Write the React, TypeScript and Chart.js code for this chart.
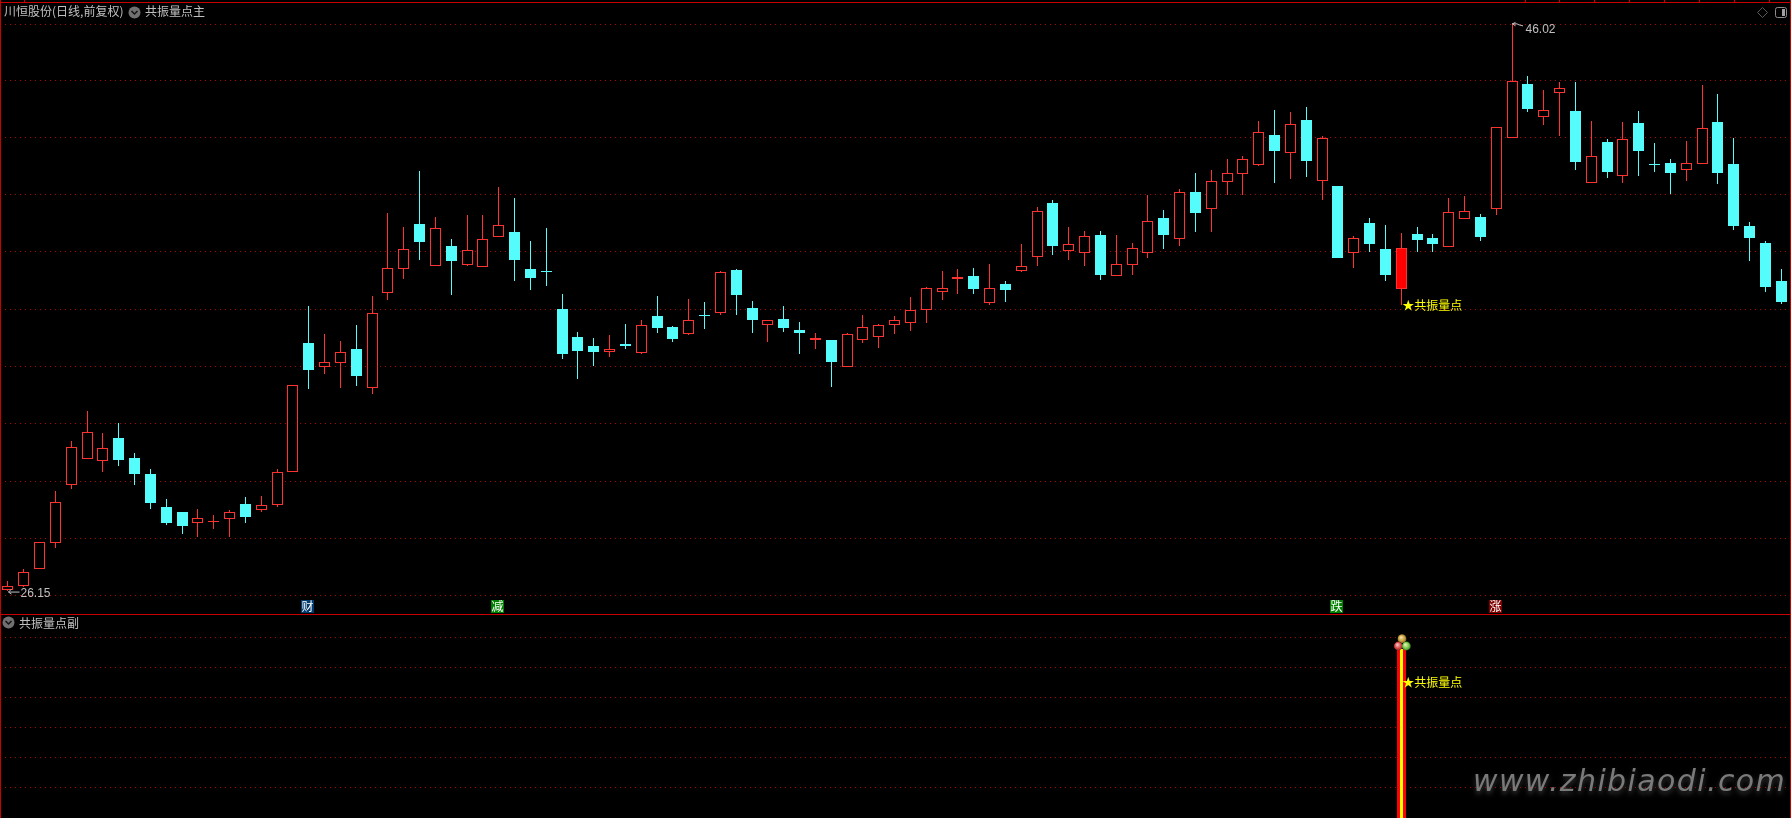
import React, { useEffect, useRef } from "react";
import { Chart, registerables } from "chart.js";

Chart.register(...registerables);

const highs = [26.49,26.89,27.84,29.63,31.37,32.44,31.65,32.00,30.97,30.41,29.36,28.90,29.01,28.80,28.97,29.43,29.46,30.41,33.33,36.11,35.13,34.89,35.45,36.46,39.37,38.88,40.84,39.23,38.46,39.30,39.30,40.28,39.89,38.39,38.84,36.53,35.20,34.99,35.10,35.48,35.62,36.46,35.41,36.36,36.25,37.34,37.41,36.29,35.61,36.11,35.55,35.17,34.92,35.17,35.80,35.48,35.76,36.43,36.78,37.34,37.41,37.44,37.58,36.99,38.28,39.58,39.82,38.88,38.74,38.74,38.60,38.32,40.00,39.47,40.21,40.77,40.87,41.26,41.36,42.59,42.97,42.90,43.08,42.06,40.31,38.56,39.19,38.95,38.67,38.88,38.63,39.89,39.96,39.33,42.36,46.02,44.16,43.67,43.95,43.95,42.59,41.96,42.55,42.94,41.82,41.26,41.89,43.85,43.53,41.99,39.05,38.39,37.41];
const lows = [26.15,26.26,26.92,27.64,29.70,30.77,30.30,30.51,29.85,29.01,28.45,28.13,28.03,28.31,28.03,28.52,28.90,29.08,30.31,33.21,33.73,33.24,33.31,33.03,36.32,37.06,37.72,37.52,36.50,37.52,37.49,38.54,36.99,36.67,36.81,34.26,33.56,34.01,34.33,34.61,34.43,35.17,34.85,35.10,35.31,35.80,35.80,35.17,34.85,35.20,34.43,34.61,33.28,33.99,34.82,34.64,35.13,35.24,35.52,36.32,36.53,36.53,36.16,36.25,37.30,37.51,37.90,37.72,37.51,37.02,37.17,37.20,37.79,38.11,38.21,38.70,38.70,40.00,40.00,41.01,40.42,40.56,40.63,39.82,37.79,37.44,38.00,36.99,36.15,38.00,38.00,38.19,39.17,38.39,39.30,42.00,42.90,42.45,42.06,40.87,40.43,40.59,40.42,40.66,40.80,40.03,40.49,41.09,40.38,38.77,37.69,36.60,36.18];
const opens = [26.17,26.32,26.92,27.83,29.86,30.77,30.70,31.49,30.79,30.23,29.08,28.90,28.53,28.54,28.67,29.18,28.98,29.16,30.31,34.82,33.99,34.13,34.61,33.25,36.58,37.42,38.98,37.52,38.21,37.56,37.49,38.54,38.70,37.41,37.34,36.01,35.03,34.71,34.51,34.78,34.48,35.76,35.38,35.14,35.80,35.88,37.37,36.04,35.46,35.66,35.27,34.92,34.92,33.99,34.93,35.04,35.46,35.53,35.98,36.61,37.06,37.16,36.23,36.88,37.35,37.84,39.72,38.05,37.98,38.60,37.17,37.56,37.98,39.19,38.47,40.10,39.52,40.46,40.74,41.06,42.10,41.48,42.62,40.50,40.31,37.98,39.02,38.11,36.71,38.63,38.49,38.19,39.17,39.23,39.52,42.00,43.88,42.74,43.58,42.94,40.43,41.85,40.67,42.52,41.08,41.12,40.88,41.09,42.55,41.08,38.91,38.32,36.99];
const closes = [26.32,26.79,27.84,29.24,31.16,31.69,31.13,30.72,30.23,29.22,28.52,28.41,28.68,28.57,28.89,28.73,29.13,30.29,33.33,33.87,34.14,34.49,33.66,35.85,37.43,38.09,38.35,38.83,37.69,38.06,38.44,38.93,37.72,37.09,37.30,34.43,34.54,34.50,34.59,34.71,35.43,35.34,34.96,35.61,35.76,37.29,36.50,35.62,35.61,35.34,35.17,34.99,34.15,35.12,35.36,35.43,35.61,35.96,36.73,36.73,37.13,36.71,36.73,36.67,37.50,39.42,38.21,38.27,38.55,37.20,37.57,38.13,39.07,38.60,40.09,39.37,40.47,40.75,41.24,42.19,41.54,42.47,41.19,41.98,37.79,38.48,38.28,37.20,38.14,38.42,38.28,39.39,39.42,38.53,42.36,43.97,43.01,42.96,43.73,41.15,41.35,40.80,41.94,41.54,41.05,40.77,41.10,42.33,40.77,38.91,38.49,36.78,36.25];

const categories = opens.map((_, i) => String(i));
const priceGrid = [45.98,43.99,41.99,40.00,38.00,36.00,34.01,31.98,29.98,27.99,25.99];
const lowerGrid = [90.5,75.5,60.5,45.5,30.5,15.5];
const resonanceIndex = 88;
const resonanceValue = 84.5;
const resonanceText = "★共振量点";
const resonanceTextLowerValue = 68;
const events = [
  { index: 19, label: "财", bg: "#003a6e" },
  { index: 31, label: "减", bg: "#008000" },
  { index: 84, label: "跌", bg: "#008000" },
  { index: 94, label: "涨", bg: "#800000" },
];
const titleMain = "川恒股份(日线,前复权)";
const titleIndicator = "共振量点主";
const titleLower = "共振量点副";
const lowLabel = "26.15";
const highLabel = "46.02";
const watermark = "www.zhibiaodi.com";
const topTicks = [24, 1525, 1559, 1594, 1629, 1664, 1699, 1734, 1769];

const RED = "#ff3232";
const CYAN = "#54fcfc";
const GRID = "#b40000";
const FRAME = "#c80000";
const GRAY = "#c0c0c0";
const CJK = '"Noto Sans CJK SC", sans-serif';

const isUp = (i: number) => closes[i] > opens[i];

const pixelSnap = {
  id: "pixelSnap",
  afterDatasetsUpdate(chart: any) {
    chart.getSortedVisibleDatasetMetas().forEach((meta: any) => {
      meta.data.forEach((el: any) => {
        if (el.skip || el.y == null || Number.isNaN(el.y)) return;
        el.x = Math.floor(el.x) + 0.5;
        el.y = Math.round(el.y);
        el.base = Math.round(el.base);
        if (Math.abs(el.base - el.y) < 1) el.base = el.y + 1;
      });
    });
  },
};

function chevron(ctx: CanvasRenderingContext2D, x: number, y: number) {
  ctx.fillStyle = "#707070";
  ctx.beginPath();
  ctx.arc(x, y, 6, 0, Math.PI * 2);
  ctx.fill();
  ctx.strokeStyle = "#141414";
  ctx.lineWidth = 1.5;
  ctx.beginPath();
  ctx.moveTo(x - 3, y - 1.5);
  ctx.lineTo(x, y + 1.5);
  ctx.lineTo(x + 3, y - 1.5);
  ctx.stroke();
}

function ball(ctx: CanvasRenderingContext2D, x: number, y: number, light: string, mid: string, dark: string) {
  const g = ctx.createRadialGradient(x - 1, y - 1.5, 0.5, x, y, 4.6);
  g.addColorStop(0, light);
  g.addColorStop(0.6, mid);
  g.addColorStop(1, dark);
  ctx.fillStyle = g;
  ctx.beginPath();
  ctx.arc(x, y, 4.4, 0, Math.PI * 2);
  ctx.fill();
}

const overlay = {
  id: "overlay",
  afterDraw(chart: any) {
    const ctx: CanvasRenderingContext2D = chart.ctx;
    const xs = chart.scales.x;
    const yt = chart.scales.y;
    const yb = chart.scales.yLower;
    ctx.save();

    ctx.fillStyle = FRAME;
    ctx.fillRect(0, 2, 1791, 1);
    ctx.fillRect(0, 0, 1, 818);
    ctx.fillRect(1790, 0, 1, 818);
    ctx.fillRect(0, 614, 1791, 1);
    topTicks.forEach((x) => ctx.fillRect(x, 0, 1, 2));

    ctx.textBaseline = "middle";
    ctx.textAlign = "left";
    ctx.font = `12px ${CJK}`;
    ctx.fillStyle = GRAY;
    ctx.fillText(titleMain, 4, 11.5);
    ctx.fillText(titleIndicator, 145, 11.5);
    ctx.fillText(titleLower, 19, 623);
    chevron(ctx, 134.5, 12.5);
    chevron(ctx, 8.5, 622.5);

    ctx.strokeStyle = "#5a5a5a";
    ctx.lineWidth = 1;
    ctx.beginPath();
    ctx.moveTo(1762.5, 7.5);
    ctx.lineTo(1767.5, 12.5);
    ctx.lineTo(1762.5, 17.5);
    ctx.lineTo(1757.5, 12.5);
    ctx.closePath();
    ctx.stroke();
    ctx.strokeStyle = "#8c8c8c";
    ctx.beginPath();
    ctx.roundRect(1775.5, 7.5, 11, 10, 2);
    ctx.stroke();
    ctx.fillStyle = "#a0a0a0";
    ctx.fillRect(1782, 9, 3, 7);

    ctx.fillStyle = GRAY;
    ctx.font = '12px "Liberation Sans", sans-serif';
    const lowY = yt.getPixelForValue(lows[0]);
    ctx.fillText(lowLabel, 20.5, lowY + 3.5);
    const highIdx = highs.indexOf(Math.max(...highs));
    const highY = yt.getPixelForValue(highs[highIdx]);
    ctx.fillText(highLabel, 1525.5, highY + 7);
    ctx.strokeStyle = GRAY;
    ctx.lineWidth = 1;
    ctx.beginPath();
    ctx.moveTo(19.5, lowY + 1.5);
    ctx.lineTo(8.5, lowY + 1.5);
    ctx.moveTo(8.5, lowY + 1.5);
    ctx.lineTo(11.5, lowY - 1.5);
    ctx.moveTo(8.5, lowY + 1.5);
    ctx.lineTo(11.5, lowY + 3.5);
    ctx.moveTo(1512.5, highY + 1);
    ctx.lineTo(1515.5, highY - 0.5);
    ctx.moveTo(1512.5, highY + 1);
    ctx.lineTo(1515.5, highY + 3);
    ctx.moveTo(1512.5, highY + 1);
    ctx.lineTo(1517, highY + 1);
    ctx.lineTo(1519, highY + 2);
    ctx.lineTo(1523, highY + 3);
    ctx.stroke();

    ctx.font = `12px ${CJK}`;
    ctx.textAlign = "center";
    events.forEach((e) => {
      const cx = Math.floor(xs.getPixelForValue(e.index));
      ctx.fillStyle = e.bg;
      ctx.fillRect(cx - 7, 600, 13, 13);
      ctx.fillStyle = "#ffffff";
      ctx.fillText(e.label, cx - 0.5, 606.5);
    });

    const rx = xs.getPixelForValue(resonanceIndex);
    ctx.textAlign = "left";
    ctx.fillStyle = "#ffff00";
    ctx.fillText(resonanceText, rx + 1, yt.getPixelForValue(lows[resonanceIndex]) + 1);
    ctx.fillText(resonanceText, rx + 1, yb.getPixelForValue(resonanceTextLowerValue));

    const bx = Math.floor(rx) + 0.5;
    const by = yb.getPixelForValue(resonanceValue);
    ball(ctx, bx + 0.5, by - 10.3, "#f0e0a0", "#c8a040", "#806020");
    ball(ctx, bx - 3.2, by - 3, "#f0c0c0", "#d84848", "#902020");
    ball(ctx, bx + 4.8, by - 3, "#e0f0b0", "#78c848", "#388020");

    ctx.textAlign = "left";
    ctx.textBaseline = "alphabetic";
    ctx.font = 'italic 30px "DejaVu Sans", sans-serif';
    (ctx as any).letterSpacing = "1.4px";
    ctx.shadowColor = "rgba(70,70,70,0.8)";
    ctx.shadowBlur = 5;
    ctx.shadowOffsetY = 3;
    ctx.fillStyle = "#7a7a7a";
    ctx.fillText(watermark, 1473, 791);
    ctx.restore();
  },
};

export default function App() {
  const ref = useRef<HTMLCanvasElement | null>(null);
  useEffect(() => {
    document.body.style.margin = "0";
    document.body.style.background = "#000";
    document.body.style.overflow = "hidden";
    const chart = new Chart(ref.current as HTMLCanvasElement, {
      type: "bar",
      data: {
        labels: categories,
        datasets: [
          {
            label: "实体",
            yAxisID: "y",
            order: 1,
            grouped: false,
            data: opens.map((o, i) => [o, closes[i]]),
            barThickness: 11,
            borderWidth: 1,
            borderSkipped: false,
            inflateAmount: 0,
            borderColor: opens.map((_, i) => (isUp(i) ? RED : CYAN)),
            backgroundColor: opens.map((_, i) =>
              i === resonanceIndex ? "#ff0000" : isUp(i) ? "#000000" : CYAN
            ),
          },
          {
            label: "影线",
            yAxisID: "y",
            order: 2,
            grouped: false,
            data: lows.map((l, i) => [l, highs[i]]),
            barThickness: 1,
            borderWidth: 0,
            inflateAmount: 0,
            backgroundColor: opens.map((_, i) => (isUp(i) ? RED : CYAN)),
          },
          {
            label: "共振量点内",
            yAxisID: "yLower",
            order: 3,
            grouped: false,
            data: categories.map((_, i) => (i === resonanceIndex ? resonanceValue : null)),
            barThickness: 3,
            borderWidth: 0,
            inflateAmount: 0,
            backgroundColor: "#ffff00",
          },
          {
            label: "共振量点外",
            yAxisID: "yLower",
            order: 4,
            grouped: false,
            data: categories.map((_, i) => (i === resonanceIndex ? resonanceValue : null)),
            barThickness: 9,
            borderWidth: 0,
            inflateAmount: 0,
            backgroundColor: "#ff0000",
          },
        ],
      } as any,
      options: {
        animation: false,
        responsive: false,
        layout: { padding: { left: 0, top: 0, bottom: 0, right: 1.83 } },
        plugins: { legend: { display: false }, tooltip: { enabled: false }, title: { display: false } },
        scales: {
          x: { display: false, offset: true, grid: { display: false } },
          yLower: {
            position: "left",
            stack: "panes",
            stackWeight: 204,
            min: 0,
            max: 102,
            afterBuildTicks: (s: any) => {
              s.ticks = lowerGrid.map((value) => ({ value }));
            },
            ticks: { display: false },
            border: { display: false, dash: [1, 4] },
            grid: { color: GRID, drawTicks: false, lineWidth: 1 },
          },
          y: {
            position: "left",
            stack: "panes",
            stackWeight: 614,
            min: 25.33,
            max: 46.82,
            afterBuildTicks: (s: any) => {
              s.ticks = priceGrid.map((value) => ({ value }));
            },
            ticks: { display: false },
            border: { display: false, dash: [1, 4] },
            grid: { color: GRID, drawTicks: false, lineWidth: 1 },
          },
        },
      } as any,
      plugins: [pixelSnap, overlay] as any,
    });
    return () => chart.destroy();
  }, []);
  return (
    <div style={{ background: "#000", width: 1791, height: 818, overflow: "hidden" }}>
      <canvas ref={ref} width={1791} height={818} style={{ display: "block" }} />
    </div>
  );
}
